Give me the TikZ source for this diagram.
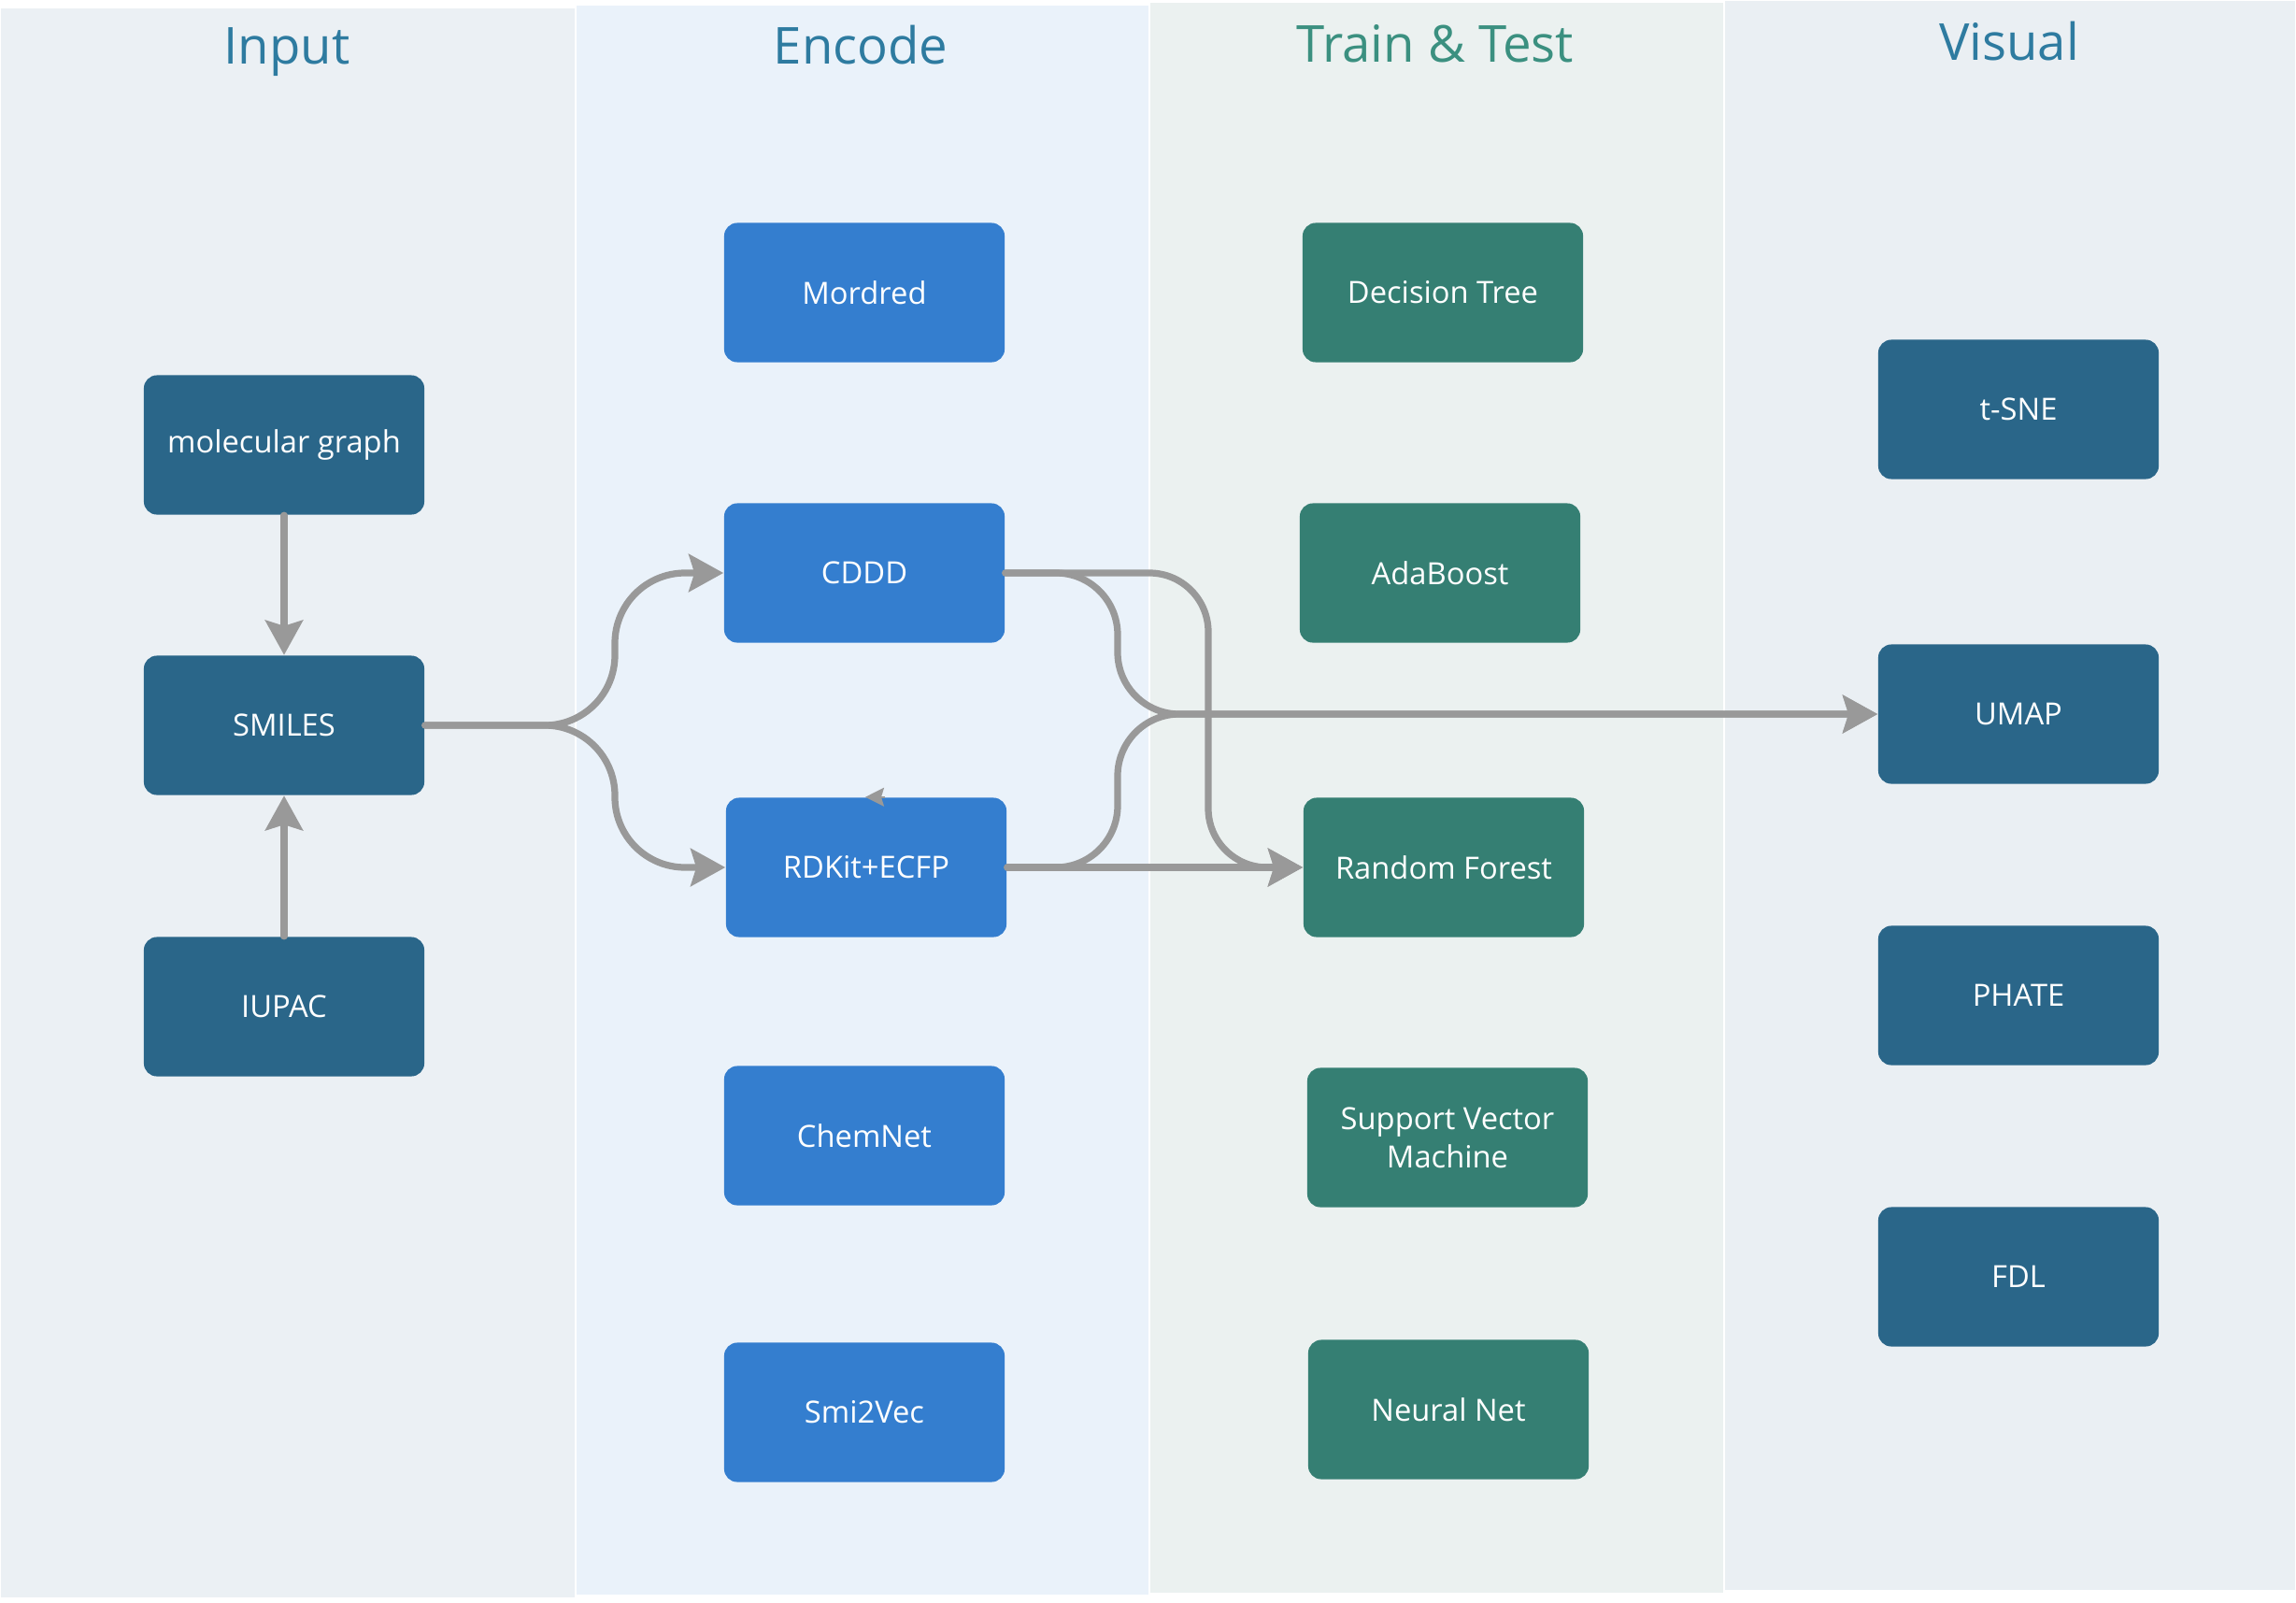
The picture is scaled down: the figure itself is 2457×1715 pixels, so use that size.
\documentclass[tikz,border=0pt]{standalone}
\usepackage{fontspec}
\setmainfont{Open Sans}
\usetikzlibrary{arrows.meta,positioning}
\definecolor{InputBlue}{RGB}{42,102,137}
\definecolor{EncodeBlue}{RGB}{52,126,207}
\definecolor{TrainGreen}{RGB}{53,127,115}
\definecolor{HeadBlue}{RGB}{46,123,160}
\definecolor{HeadGreen}{RGB}{59,144,128}
\definecolor{LinkGray}{RGB}{153,153,153}
\definecolor{LaneInput}{RGB}{235,240,244}
\definecolor{LaneEncode}{RGB}{234,242,250}
\definecolor{LaneTrain}{RGB}{235,241,240}
\definecolor{LaneVisual}{RGB}{234,239,243}
\tikzset{
  ibox/.style={rectangle,rounded corners=4pt,fill=InputBlue,text=white,
               minimum width=3cm,minimum height=1.49cm,align=center,
               font=\fontsize{9.3}{11.6}\selectfont},
  ebox/.style={ibox,fill=EncodeBlue},
  tbox/.style={ibox,fill=TrainGreen},
  vbox/.style={ibox},
  lane/.style={draw=white,line width=0.4pt},
  head/.style={font=\fontsize{15.5}{18}\selectfont,text=HeadBlue},
  link/.style={-{Stealth[length=0.37cm,width=0.4cm,inset=0.06cm]},LinkGray,
               line width=0.072cm,line cap=round},
  stub/.style={-{Stealth[length=0.2cm,width=0.2cm,inset=0.03cm]},LinkGray,
               line width=0.02cm},
}

\begin{document}
\begin{tikzpicture}[x=0.01cm,y=-0.01cm]
  \useasboundingbox (0,0) rectangle (2457,1715);
  % lanes
  \fill[LaneInput,lane]  (0,8)    rectangle (616,1710);
  \fill[LaneEncode,lane] (616,5)  rectangle (1230,1707);
  \fill[LaneTrain,lane]  (1230,2) rectangle (1845,1705);
  \fill[LaneVisual,lane] (1845,0) rectangle (2457,1702);

  \node[head] (hinput)  at (307,56)  {Input};
  \node[head] (hencode) at (921,48)  {Encode};
  \node[head,text=HeadGreen] (htrain) at (1536,47) {Train \& Test};
  \node[head] (hvisual) at (2150,44) {Visual};

  % input
  \node[ibox] (molgraph) at (304,476)  {molecular graph};
  \node[ibox] (smiles)   at (304,776)  {SMILES};
  \node[ibox] (iupac)    at (304,1077) {IUPAC};

  % encode
  \node[ebox] (mordred) at (925,313)  {Mordred};
  \node[ebox] (cddd)    at (925,613)  {CDDD};
  \node[ebox] (rdkit)   at (927,928)  {RDKit+ECFP};
  \node[ebox] (chemnet) at (925,1215) {ChemNet};
  \node[ebox] (smivec)  at (925,1511) {Smi2Vec};

  % train & test
  \node[tbox] (dtree)  at (1544,313)  {Decision Tree};
  \node[tbox] (ada)    at (1541,613)  {AdaBoost};
  \node[tbox] (rforest) at (1545,928) {Random Forest};
  \node[tbox] (svm)    at (1549,1217) {Support Vector\\Machine};
  \node[tbox] (nnet)   at (1550,1508) {Neural Net};

  % visual
  \node[vbox] (tsne)  at (2160,438)  {t-SNE};
  \node[vbox] (umap)  at (2160,764)  {UMAP};
  \node[vbox] (phate) at (2160,1065) {PHATE};
  \node[vbox] (fdl)   at (2160,1366) {FDL};

  \draw[link] (molgraph) -- (smiles);
  \draw[link] (iupac) -- (smiles);
  \draw[link,rounded corners=0.75cm] (smiles.east) -- (658,776) |- (cddd.west);
  \draw[link,rounded corners=0.75cm] (smiles.east) -- (658,776) |- (rdkit.west);
  \draw[link,rounded corners=0.66cm] (cddd.east) -- (1196,613) |- (umap.west);
  \draw[link,rounded corners=0.66cm] (rdkit.east) -- (1196,928) |- (umap.west);
  \draw[link,rounded corners=0.63cm] (cddd.east) -- (1293,613) |- (rforest.west);
  \draw[link] (rdkit.east) -- (rforest.west);
  \draw[stub] ([xshift=0.2cm]rdkit.north) -- ([xshift=-0.01cm]rdkit.north);
\end{tikzpicture}
\end{document}
